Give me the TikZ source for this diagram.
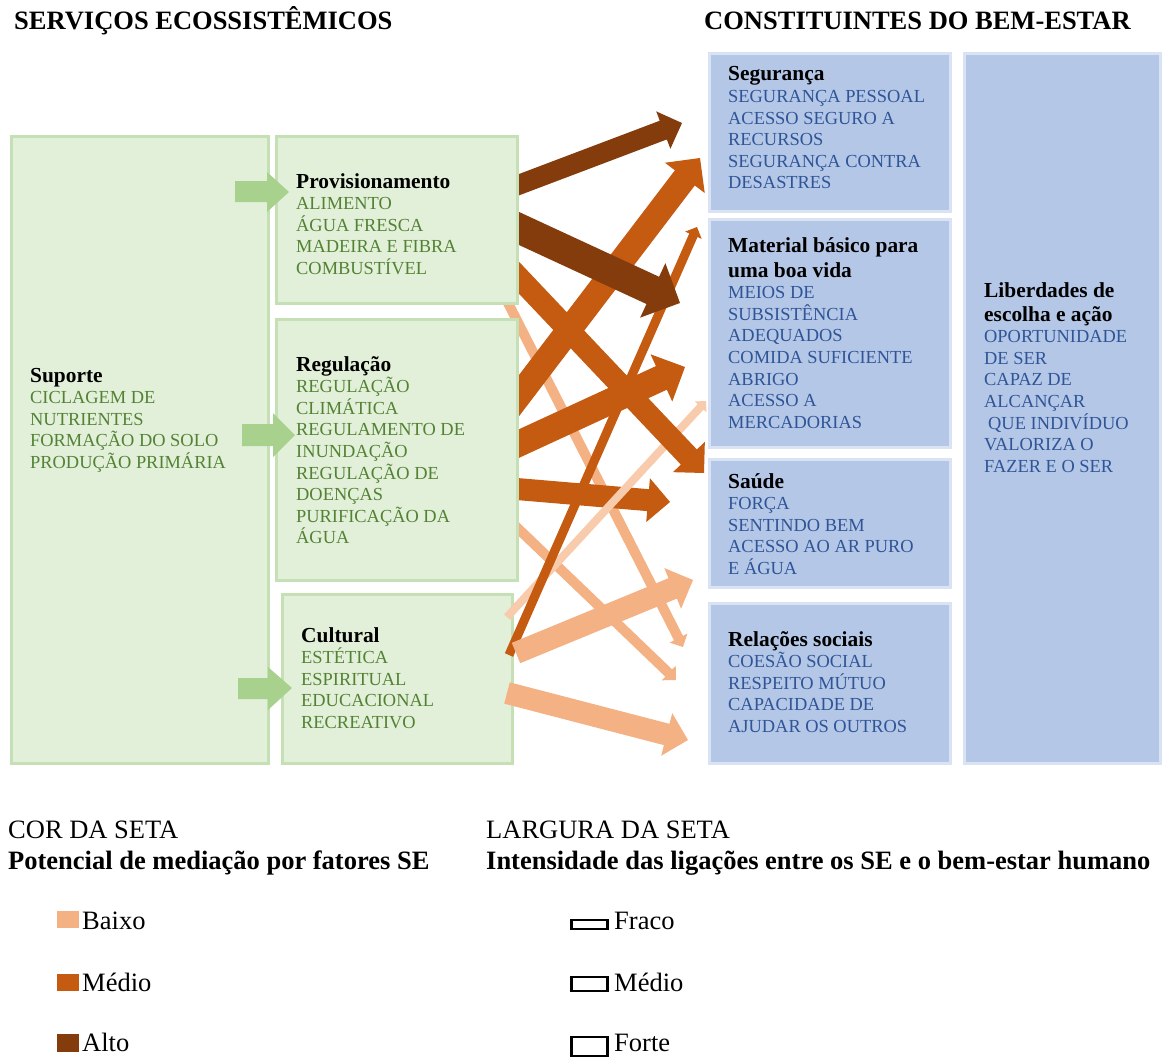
\documentclass[tikz,border=0pt]{standalone}
\usepackage{fontspec}
\setmainfont{Liberation Serif}
\usetikzlibrary{calc}
\definecolor{gfill}{HTML}{E2F0D9}
\definecolor{gline}{HTML}{C5E0B4}
\definecolor{gtext}{HTML}{548235}
\definecolor{bfill}{HTML}{B4C7E7}
\definecolor{bline}{HTML}{DAE3F3}
\definecolor{btext}{HTML}{2F5597}
\definecolor{garrow}{HTML}{A9D18E}
\definecolor{alto}{HTML}{843C0C}
\definecolor{medio}{HTML}{C55A11}
\definecolor{baixo}{HTML}{F4B183}
\definecolor{vlight}{HTML}{F8CBAD}
\newcommand\bodyf{\fontsize{18.4}{21.6}\selectfont}
\newcommand\headf{\fontsize{21.4}{21.6}\selectfont\bfseries}
\newcommand\bigf{\fontsize{26.5}{30}\selectfont}
\newcommand\btext[1]{\parbox[t]{300pt}{\raggedright\bodyf #1}}
\newcommand\fatarrow[4]{%
  \pgfmathsetmacro\fahw{#2/2}%
  \pgfmathsetmacro\fahh{#2}%
  \coordinate (fa-b) at ($(#4)!\fahh pt!(#3)$);
  \fill[#1] ($(#3)!\fahw pt!90:(#4)$) -- ($(fa-b)!\fahw pt!90:(#4)$) -- ($(fa-b)!\fahh pt!90:(#4)$) -- (#4) -- ($(fa-b)!\fahh pt!-90:(#4)$) -- ($(fa-b)!\fahw pt!-90:(#4)$) -- ($(#3)!\fahw pt!-90:(#4)$) -- cycle;
}
\begin{document}
\begin{tikzpicture}[x=1pt,y=-1pt,
  gbox/.style={draw=gline, fill=gfill, line width=3pt, anchor=north west, inner sep=0pt},
  bbox/.style={draw=bline, fill=bfill, line width=3pt, anchor=north west, inner sep=0pt},
  txt/.style={anchor=base west, inner sep=0pt},
  legtxt/.style={anchor=base west, inner sep=0pt, font=\bigf},
  swatch/.style={anchor=north west, inner sep=0pt, minimum width=22pt},
  wbox/.style={draw=black, line width=2.5pt, anchor=north west, inner sep=0pt, minimum width=36pt},
]
\useasboundingbox (0,0) rectangle (1162,1057);
\fill[white] (0,0) rectangle (1162,1057);

% titles
\node[legtxt] (t1) at (14,30) {\bfseries SERVIÇOS ECOSSISTÊMICOS};
\node[legtxt] (t2) at (704,30) {\bfseries CONSTITUINTES DO BEM-ESTAR};

% blue boxes
\node[bbox, minimum width=241pt, minimum height=158pt] (seg) at (707.5,52.2) {};
\node[bbox, minimum width=241pt, minimum height=227.5pt] (mat) at (707.5,218) {};
\node[bbox, minimum width=241pt, minimum height=127.5pt] (sau) at (707.5,458) {};
\node[bbox, minimum width=241pt, minimum height=160pt] (rel) at (707.5,601.5) {};
\node[bbox, minimum width=195.5pt, minimum height=709.3pt] (lib) at (963,52.2) {};

\node[txt] (seg-t) at (728,81) {\btext{{\headf Segurança}\\ \color{btext}SEGURANÇA PESSOAL\\ACESSO SEGURO A\\RECURSOS\\SEGURANÇA CONTRA\\DESASTRES}};
\node[txt] (mat-t) at (728,252) {\btext{{\headf Material básico para}\\[3.5pt]{\headf uma boa vida}\\ \color{btext}MEIOS DE\\SUBSISTÊNCIA\\ADEQUADOS\\COMIDA SUFICIENTE\\ABRIGO\\ACESSO A\\MERCADORIAS}};
\node[txt] (sau-t) at (728,488) {\btext{{\headf Saúde}\\ \color{btext}FORÇA\\SENTINDO BEM\\ACESSO AO AR PURO\\E ÁGUA}};
\node[txt] (rel-t) at (728,646) {\btext{{\headf Relações sociais}\\ \color{btext}COESÃO SOCIAL\\RESPEITO MÚTUO\\CAPACIDADE DE\\AJUDAR OS OUTROS}};
\node[txt] (lib-t) at (984,297) {\btext{{\headf Liberdades de}\\[2.5pt]{\headf escolha e ação}\\ \color{btext}OPORTUNIDADE\\DE SER\\CAPAZ DE\\ALCANÇAR\\\hspace*{4pt}QUE INDIVÍDUO\\VALORIZA O\\FAZER E O SER}};

% green boxes under arrows
\node[gbox, minimum width=257pt, minimum height=627pt] (sup) at (10,134.5) {};
\node[gbox, minimum width=229.5pt, minimum height=168.5pt] (cul) at (281,593) {};
\node[txt] (sup-t) at (30,382) {\btext{{\headf Suporte}\\ \color{gtext}CICLAGEM DE\\NUTRIENTES\\FORMAÇÃO DO SOLO\\PRODUÇÃO PRIMÁRIA}};
\node[txt] (cul-t) at (301,642) {\btext{{\headf Cultural}\\ \color{gtext}ESTÉTICA\\ESPIRITUAL\\EDUCACIONAL\\RECREATIVO}};

% arrow end points
\coordinate (a1s) at (505,190);  \coordinate (a1e) at (682,123);
\coordinate (a2s) at (505,222);  \coordinate (a2e) at (680,303);
\coordinate (m1s) at (505,414);  \coordinate (m1e) at (700,158);
\coordinate (m2s) at (505,263);  \coordinate (m2e) at (704,473);
\coordinate (m3s) at (505,450);  \coordinate (m3e) at (685,367);
\coordinate (m4s) at (505,488);  \coordinate (m4e) at (670,502);
\coordinate (m5s) at (509,655);  \coordinate (m5e) at (697,227);
\coordinate (l1s) at (505,297);  \coordinate (l1e) at (683,647);
\coordinate (l2s) at (505,516);  \coordinate (l2e) at (676,680);
\coordinate (l3s) at (516,653);  \coordinate (l3e) at (693,580);
\coordinate (l4s) at (507,693);  \coordinate (l4e) at (688,740);
\coordinate (vls) at (507,617);  \coordinate (vle) at (706,401);

% arrows
\fatarrow{baixo}{10}{l1s}{l1e}
\fatarrow{baixo}{10}{l2s}{l2e}
\fatarrow{medio}{22}{m4s}{m4e}
\fatarrow{vlight}{8}{vls}{vle}
\fatarrow{medio}{9}{m5s}{m5e}
\fatarrow{baixo}{22}{l3s}{l3e}
\fatarrow{baixo}{22}{l4s}{l4e}
\fatarrow{medio}{25}{m1s}{m1e}
\fatarrow{medio}{22}{m2s}{m2e}
\fatarrow{medio}{26}{m3s}{m3e}
\fatarrow{alto}{20}{a1s}{a1e}
\fatarrow{alto}{30}{a2s}{a2e}

% green boxes over arrow tails
\node[gbox, minimum width=241pt, minimum height=167pt] (prov) at (275,134.5) {};
\node[gbox, minimum width=241pt, minimum height=260.5pt] (reg) at (275,318) {};
\node[txt] (prov-t) at (296,188) {\btext{{\headf Provisionamento}\\ \color{gtext}ALIMENTO\\ÁGUA FRESCA\\MADEIRA E FIBRA\\COMBUSTÍVEL}};
\node[txt] (reg-t) at (296,371) {\btext{{\headf Regulação}\\ \color{gtext}REGULAÇÃO\\CLIMÁTICA\\REGULAMENTO DE\\INUNDAÇÃO\\REGULAÇÃO DE\\DOENÇAS\\PURIFICAÇÃO DA\\ÁGUA}};

% green block arrows
\fill[garrow] (235,181) -- (267,181) -- (267,172) -- (289,192) -- (267,212) -- (267,202) -- (235,202) -- cycle;
\fill[garrow] (242,424) -- (273,424) -- (273,413) -- (295,435) -- (273,457) -- (273,446) -- (242,446) -- cycle;
\fill[garrow] (238,678) -- (268,678) -- (268,667) -- (292,688) -- (268,710) -- (268,699) -- (238,699) -- cycle;

% legend
\node[legtxt] (c1) at (8,838) {COR DA SETA};
\node[legtxt] (c2) at (8,869) {\bfseries Potencial de mediação por fatores SE};
\node[legtxt] (w1) at (486,838) {LARGURA DA SETA};
\node[legtxt] (w2) at (486,869) {\bfseries Intensidade das ligações entre os SE e o bem-estar humano};

\node[swatch, fill=baixo, minimum height=17pt] (sw1) at (57,911) {};
\node[swatch, fill=medio, minimum height=17pt] (sw2) at (57,974) {};
\node[swatch, fill=alto, minimum height=18pt] (sw3) at (57,1034) {};
\node[legtxt] (sl1) at (82,929) {Baixo};
\node[legtxt] (sl2) at (82,991) {Médio};
\node[legtxt] (sl3) at (82,1051) {Alto};

\node[wbox, minimum height=9pt] (wb1) at (570,918.5) {};
\node[wbox, minimum height=14pt] (wb2) at (570,975.5) {};
\node[wbox, minimum height=19pt] (wb3) at (570,1035.5) {};
\node[legtxt] (wl1) at (614,929) {Fraco};
\node[legtxt] (wl2) at (614,991) {Médio};
\node[legtxt] (wl3) at (614,1051) {Forte};
\end{tikzpicture}
\end{document}
